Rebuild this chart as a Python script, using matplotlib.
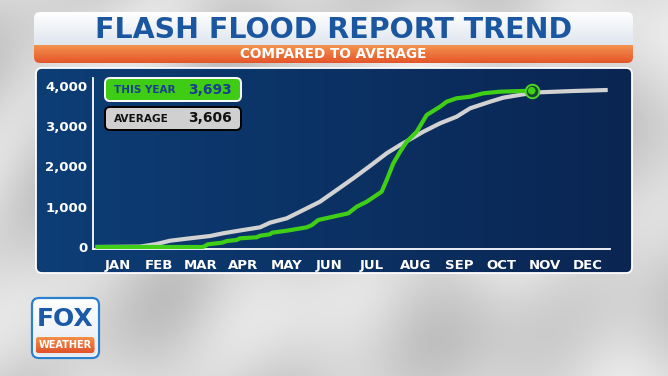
import numpy as np
import matplotlib
matplotlib.use('Agg')
import matplotlib.pyplot as plt
from matplotlib.patches import FancyBboxPatch
from matplotlib.colors import LinearSegmentedColormap

# ---------------- data ----------------
title = "FLASH FLOOD REPORT TREND"
subtitle = "COMPARED TO AVERAGE"
months = ['JAN', 'FEB', 'MAR', 'APR', 'MAY', 'JUN', 'JUL', 'AUG', 'SEP', 'OCT', 'NOV', 'DEC']
month_mid_days = [15.5, 45, 74.5, 105, 135.5, 166, 196.5, 227.5, 258, 288.5, 319, 349.5]
y_ticks = [0, 1000, 2000, 3000, 4000]
y_tick_labels = ['0', '1,000', '2,000', '3,000', '4,000']

avg_days = [0, 31.5, 43.4, 52.9, 67.1, 81.3, 90.5, 104.7, 116.8, 123.9, 135.8, 147.6,
            159.4, 171.3, 183.1, 194.9, 206.8, 216.3, 223.4, 232.8, 244.7, 256.5,
            266.0, 280.2, 289.6, 303.8, 315.7, 339.4, 363.8]
avg_values = [0, 10, 75, 156, 216, 273, 340, 422, 489, 604, 713, 919,
              1125, 1416, 1707, 2012, 2328, 2534, 2675, 2864, 3073, 3237,
              3445, 3609, 3709, 3793, 3843, 3875, 3900]

year_days = [0, 76.3, 79.8, 89.8, 93.3, 100.2, 102.6, 114.4, 116.8, 123.9, 125.3,
             135.8, 150.0, 153.7, 158.2, 179.5, 185.5, 192.6, 203.2, 206.8, 211.5,
             216.3, 221.0, 228.1, 235.2, 244.7, 249.4, 256.5, 266.0, 275.4, 287.3, 309.8]
year_values = [0, 0, 67, 107, 149, 174, 216, 241, 281, 315, 355,
               405, 489, 546, 671, 837, 1001, 1125, 1374, 1664, 2079,
               2367, 2616, 2864, 3279, 3485, 3609, 3694, 3733, 3818, 3858, 3882]

this_year_label = "THIS YEAR"
this_year_total = "3,693"
average_label = "AVERAGE"
average_total = "3,606"

# ---------------- figure ----------------
W, H = 668, 376
fig = plt.figure(figsize=(W / 100, H / 100), dpi=100)

bg = fig.add_axes([0, 0, 1, 1], zorder=0)
bg.axis('off')


def gradient(ax, extent, c1, c2, vertical=True, clip=None, zorder=1):
    arr = np.linspace(0, 1, 256)
    arr = arr[:, None] if vertical else arr[None, :]
    cmap = LinearSegmentedColormap.from_list('g', [c1, c2])
    im = ax.imshow(arr, extent=extent, cmap=cmap, aspect='auto',
                   zorder=zorder, interpolation='bilinear')
    if clip is not None:
        im.set_clip_path(clip)
    return im


# background swooshes (decoration only)
yy, xx = np.mgrid[0:H, 0:W]
u = xx / W
v = yy / H
t = v * 1.1 + 0.8 * u - 0.9 * (u - 0.55) ** 2
val = (0.84 + 0.045 * np.sin(2 * np.pi * t * 1.8)
       + 0.03 * np.sin(2 * np.pi * (u * 2.4 - v * 1.0))
       + 0.02 * np.sin(2 * np.pi * (u * 5.0 + v * 0.6)))
val = np.clip(val, 0, 1)
img = np.dstack([val, val, val])
bg.imshow(img, extent=(0, W, H, 0), aspect='auto', zorder=0, interpolation='bilinear')

# title box
tbox = FancyBboxPatch((34, 12), 599, 51, boxstyle='round,pad=0,rounding_size=6',
                      fc='none', ec='none', zorder=2)
bg.add_patch(tbox)
gradient(bg, (34, 633, 46, 12), '#ffffff', '#dde5ee', clip=tbox, zorder=2)
gradient(bg, (34, 633, 63, 45), '#f5934e', '#e3552a', clip=tbox, zorder=3)
bg.text(333.5, 29.5, title, ha='center', va='center', color='#1b56a0',
        fontsize=20.5, fontweight='bold', family='DejaVu Sans', zorder=5)
bg.text(333.5, 54.5, subtitle, ha='center', va='center', color='white',
        fontsize=9.8, fontweight='bold', family='DejaVu Sans', zorder=5)

# chart panel
panel = FancyBboxPatch((36, 68), 596, 205, boxstyle='round,pad=0,rounding_size=6',
                       fc='none', ec='none', zorder=2)
bg.add_patch(panel)
gradient(bg, (36, 632, 273, 68), '#0d3e76', '#0a2552', vertical=False, clip=panel, zorder=2)
bg.add_patch(FancyBboxPatch((36, 68), 596, 205, boxstyle='round,pad=0,rounding_size=6',
                            fc='none', ec='white', lw=1.3, zorder=4))

# logo
bg.add_patch(FancyBboxPatch((32, 298), 67, 60, boxstyle='round,pad=0,rounding_size=7',
                            fc='white', ec='#2a7fd0', lw=1.6, zorder=5))
logo_clip = FancyBboxPatch((34, 300), 63, 56, boxstyle='round,pad=0,rounding_size=6',
                           fc='none', ec='none', zorder=5)
bg.add_patch(logo_clip)
gradient(bg, (34, 97, 356, 300), '#ffffff', '#e3eaf2', clip=logo_clip, zorder=5)
orange = FancyBboxPatch((35.5, 337), 59, 16, boxstyle='round,pad=0,rounding_size=3',
                        fc='none', ec='none', zorder=6)
bg.add_patch(orange)
gradient(bg, (35.5, 94.5, 353, 337), '#f5924a', '#e0512a', clip=orange, zorder=6)
bg.text(65.5, 319.5, 'FOX', ha='center', va='center', color='#1b5aa8',
        fontsize=18, fontweight='heavy', family='DejaVu Sans', zorder=7)
bg.text(65, 345.5, 'WEATHER', ha='center', va='center', color='white',
        fontsize=7, fontweight='bold', family='DejaVu Sans', zorder=7)

bg.set_xlim(0, W)
bg.set_ylim(H, 0)

# ---------------- data axes ----------------
def px_to_day(x):
    return (x - 95.6) * 365 / 513.8


def px_to_val(y):
    return (247 - y) * 24.84


ax_l, ax_r, ax_t, ax_b = 93, 610, 78, 249
ax = fig.add_axes([ax_l / W, (H - ax_b) / H, (ax_r - ax_l) / W, (ax_b - ax_t) / H], zorder=2)
ax.patch.set_alpha(0)
ax.set_xlim(px_to_day(ax_l), px_to_day(ax_r))
ax.set_ylim(px_to_val(ax_b), px_to_val(ax_t))
for s in ['top', 'right']:
    ax.spines[s].set_visible(False)
for s in ['left', 'bottom']:
    ax.spines[s].set_color('white')
    ax.spines[s].set_linewidth(1.3)

ax.plot(avg_days, avg_values, color='#d2d2d2', lw=3.0, solid_capstyle='butt',
        solid_joinstyle='round', zorder=3)
ax.plot(year_days, year_values, color='#3fcf16', lw=3.0, solid_capstyle='butt',
        solid_joinstyle='round', zorder=4)
ax.scatter([year_days[-1]], [year_values[-1]], s=95, facecolor='#14452e',
           edgecolor='#4ed626', linewidth=1.4, zorder=5)
ax.scatter([year_days[-1]], [year_values[-1]], s=30, facecolor='#3fcf16',
           edgecolor='none', zorder=6)

ax.set_xticks(month_mid_days)
ax.set_xticklabels(months)
ax.set_yticks(y_ticks)
ax.set_yticklabels(y_tick_labels)
ax.tick_params(axis='both', length=0, colors='white', labelsize=9.5)
ax.tick_params(axis='x', pad=7.5)
ax.tick_params(axis='y', pad=4)
for lab in ax.get_xticklabels() + ax.get_yticklabels():
    lab.set_fontweight('bold')
    lab.set_family('DejaVu Sans')

# ---------------- badges ----------------
fg = fig.add_axes([0, 0, 1, 1], zorder=3)
fg.axis('off')
fg.set_xlim(0, W)
fg.set_ylim(H, 0)
fg.add_patch(FancyBboxPatch((105, 78), 136, 23, boxstyle='round,pad=0,rounding_size=5',
                            fc='#3fcc14', ec='white', lw=1.4, zorder=3))
fg.add_patch(FancyBboxPatch((105, 107), 136, 23, boxstyle='round,pad=0,rounding_size=5',
                            fc='#d0d0d0', ec='black', lw=1.4, zorder=3))
fg.text(114, 90, this_year_label, ha='left', va='center', color='#1a3f8f',
        fontsize=7.5, fontweight='bold', family='DejaVu Sans', zorder=4)
fg.text(232, 90, this_year_total, ha='right', va='center', color='#1a3f8f',
        fontsize=10, fontweight='bold', family='DejaVu Sans', zorder=4)
fg.text(114, 118.5, average_label, ha='left', va='center', color='#111111',
        fontsize=7.6, fontweight='bold', family='DejaVu Sans', zorder=4)
fg.text(232, 118.5, average_total, ha='right', va='center', color='#111111',
        fontsize=10, fontweight='bold', family='DejaVu Sans', zorder=4)

fig.savefig('out.png', dpi=100)
